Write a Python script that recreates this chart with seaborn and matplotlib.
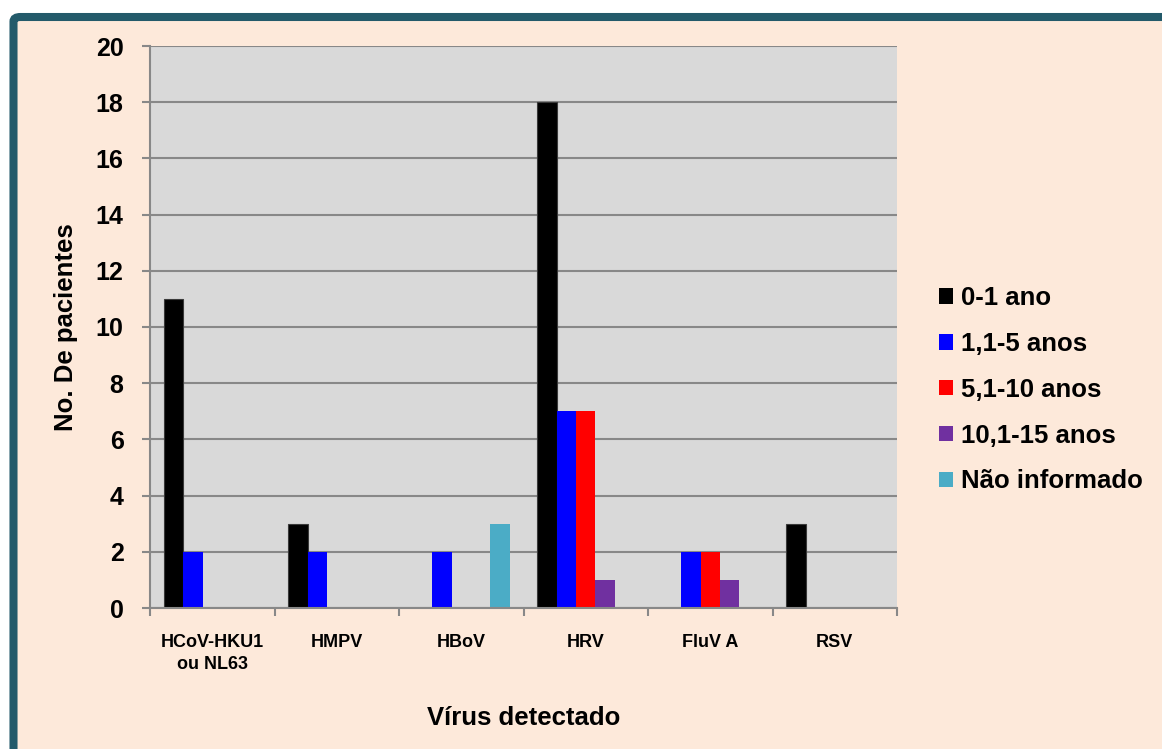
import matplotlib
matplotlib.use("Agg")
import matplotlib.pyplot as plt
from matplotlib.patches import FancyBboxPatch, Patch
import seaborn as sns
import pandas as pd

# Virus groups and age bands
virus = ["HCoV-HKU1\nou NL63", "HMPV", "HBoV", "HRV", "FluV A", "RSV"]
faixas = ["0-1 ano", "1,1-5 anos", "5,1-10 anos", "10,1-15 anos", "Não informado"]

# Patient counts per age band, one value per virus
idade_0_1 = [11, 3, 0, 18, 0, 3]
idade_1_5 = [2, 2, 2, 7, 2, 0]
idade_5_10 = [0, 0, 0, 7, 2, 0]
idade_10_15 = [0, 0, 0, 1, 1, 0]
nao_informado = [0, 0, 3, 0, 0, 0]

cores = ["#000000", "#0000FF", "#FF0000", "#7030A0", "#4BACC6"]

series = [idade_0_1, idade_1_5, idade_5_10, idade_10_15, nao_informado]
rows = []
for faixa, vals in zip(faixas, series):
    for v, n in zip(virus, vals):
        rows.append({"virus": v, "faixa": faixa, "n": n})
df = pd.DataFrame(rows)

sns.set_theme(style="white")
plt.rcParams["font.family"] = ["Liberation Sans", "DejaVu Sans"]
plt.rcParams.update({"text.color": "black", "axes.labelcolor": "black",
                     "xtick.labelcolor": "black", "ytick.labelcolor": "black"})

fig = plt.figure(figsize=(11.62, 7.49), dpi=100)
fig.patch.set_facecolor("white")

# Framed peach panel with a dark teal border
W, H = 1162, 749
frame = FancyBboxPatch((13.5 / W, 0 - 0.05), 1.2, (1 - 17.0 / H) + 0.05,
                       boxstyle="round,pad=0,rounding_size=0.006",
                       transform=fig.transFigure, facecolor="#FDE9DA",
                       edgecolor="#235A6A", linewidth=5.8, zorder=-5)
fig.patches.append(frame)

ax = fig.add_axes([150 / W, 1 - 608 / H, (897 - 150) / W, (608 - 46) / H])
ax.set_zorder(1)
ax.set_facecolor("#D9D9D9")

sns.barplot(data=df, x="virus", y="n", hue="faixa", order=virus,
            hue_order=faixas, palette=cores, saturation=1, width=0.78,
            edgecolor="none", linewidth=0, ax=ax, legend=False)

for bar in ax.patches:
    if tuple(bar.get_facecolor()[:3]) == (0.0, 0.0, 0.0):
        bar.set_edgecolor("#3A3A3A")
        bar.set_linewidth(0.8)

ax.set_ylim(0, 20)
ax.set_xlim(-0.5, len(virus) - 0.5)
ax.set_yticks(range(0, 21, 2))
ax.yaxis.grid(True, color="#888888", linewidth=1.5)
ax.set_axisbelow(True)

for side in ["top", "right"]:
    ax.spines[side].set_visible(False)
for side in ["left", "bottom"]:
    ax.spines[side].set_color("#888888")
    ax.spines[side].set_linewidth(1.5)

ax.tick_params(axis="y", which="major", direction="out", length=6, width=1.5,
               color="#888888", left=True, pad=13, labelsize=18)
for lbl in ax.get_yticklabels():
    lbl.set_fontweight("bold")

# Category labels at centres, tick marks on the boundaries
ax.set_xticks(range(len(virus)))
ax.set_xticklabels(virus, fontsize=13, fontweight="bold", linespacing=1.35,
                   va="top")
ax.tick_params(axis="x", which="major", length=0, pad=19)
ax.set_xticks([i - 0.5 for i in range(len(virus) + 1)], minor=True)
ax.tick_params(axis="x", which="minor", direction="out", length=6, width=1.5,
               color="#888888", bottom=True)

ax.set_xlabel("Vírus detectado", fontsize=18.5, fontweight="bold", labelpad=24)
ax.set_ylabel("No. De pacientes", fontsize=18.5, fontweight="bold", labelpad=13)

handles = [Patch(facecolor=c, edgecolor="none") for c in cores]
fig.legend(handles, faixas, loc="upper left",
           bbox_to_anchor=(916 / W, 1 - 263 / H), frameon=False,
           prop={"size": 18.5, "weight": "bold"}, handlelength=0.55,
           handleheight=0.55, handletextpad=0.3, labelspacing=0.85)

fig.savefig("out.png", dpi=100, facecolor=fig.get_facecolor())
